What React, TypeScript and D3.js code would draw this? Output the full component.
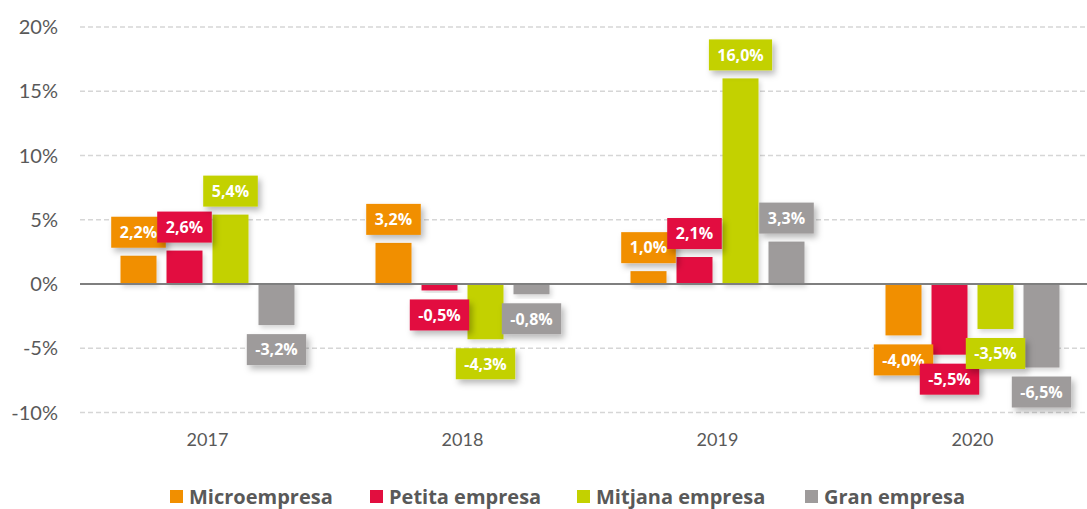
import React from "react";
import * as d3 from "d3";

const years = ["2017", "2018", "2019", "2020"];
const seriesNames = ["Microempresa", "Petita empresa", "Mitjana empresa", "Gran empresa"];
const micro = [2.2, 3.2, 1.0, -4.0];
const petita = [2.6, -0.5, 2.1, -5.5];
const mitjana = [5.4, -4.3, 16.0, -3.5];
const gran = [-3.2, -0.8, 3.3, -6.5];
const yTicks = [-10, -5, 0, 5, 10, 15, 20];
const colors = ["#f18f00", "#e20e3f", "#c3d100", "#9e9b9b"];

const W = 1087;
const H = 509;
const FONT = "Lato, 'Open Sans', sans-serif";
const BFONT = "'Open Sans', Lato, sans-serif";

const charW: Record<string, number> = { ",": 4.5, "-": 4.8, "%": 12.9 };

export default function App() {
  const series = [micro, petita, mitjana, gran];
  const x = d3.scaleBand<string>().domain(years).range([80, 1100]).paddingInner(0).paddingOuter(0);
  const inner = d3.scaleBand<number>().domain([0, 1, 2, 3]).range([-87, 87]).paddingInner(10 / 46).paddingOuter(0);
  const y = d3.scaleLinear().domain([-10, 20]).range([412.5, 27]);
  const fmt = (v: number) => v.toFixed(1).replace(".", ",") + "%";
  const bw = inner.bandwidth();

  const labelW = (s: string) => s.split("").reduce((a, c) => a + (charW[c] ?? 8.6), 0) + 20;

  const legendX = [170, 370, 577, 805];

  return (
    <svg width={W} height={H} style={{ position: "absolute", left: 0, top: 0, background: "#fff" }}>
      <defs>
        <filter id="sh" x="-30%" y="-30%" width="170%" height="170%">
          <feDropShadow dx="3" dy="4" stdDeviation="3" floodColor="#000" floodOpacity="0.28" />
        </filter>
        <filter id="shb" x="-30%" y="-30%" width="170%" height="170%">
          <feDropShadow dx="2" dy="3" stdDeviation="2.5" floodColor="#000" floodOpacity="0.16" />
        </filter>
      </defs>
      {yTicks.map((t) => (
        <g key={t}>
          {t !== 0 && (
            <line x1={80} x2={W} y1={y(t)} y2={y(t)} stroke="#d6d6d6" strokeWidth={1.3} strokeDasharray="5,3" />
          )}
          <text x={58} y={y(t)} dy="0.35em" textAnchor="end" fontFamily={FONT} fontSize={20} fill="#595959">
            {t}%
          </text>
        </g>
      ))}
      {years.map((yr, i) => (
        <g key={yr}>
          {series.map((s, j) => {
            const v = s[i];
            const cx = x(yr)! + x.bandwidth() / 2 + inner(j)!;
            return (
              <rect key={j} x={cx} width={bw} y={Math.min(y(v), y(0))} height={Math.abs(y(v) - y(0))} fill={colors[j]} filter="url(#shb)" />
            );
          })}
          <text x={x(yr)! + x.bandwidth() / 2} y={440} dy="0.35em" textAnchor="middle" fontFamily={FONT} fontSize={18} fill="#595959">
            {yr}
          </text>
        </g>
      ))}
      <line x1={80} x2={W} y1={y(0)} y2={y(0)} stroke="#7f7f7f" strokeWidth={2} />
      {years.map((yr, i) =>
        series.map((s, j) => {
          const v = s[i];
          const cx = x(yr)! + x.bandwidth() / 2 + inner(j)! + bw / 2;
          const txt = fmt(v);
          const w = labelW(txt);
          const h = 31;
          const by = v >= 0 ? y(v) - 8 - h : y(v) + 9;
          return (
            <g key={yr + j}>
              <rect x={cx - w / 2} y={by} width={w} height={h} fill={colors[j]} filter="url(#sh)" />
              <text x={cx} y={by + h / 2} dy="0.36em" textAnchor="middle" fontFamily={BFONT} fontWeight="bold" fontSize={16} fill="#fff">
                {txt}
              </text>
            </g>
          );
        })
      )}
      {seriesNames.map((n, j) => (
        <g key={n}>
          <rect x={legendX[j]} y={490} width={13} height={13} fill={colors[j]} />
          <text x={legendX[j] + 19} y={497} dy="0.35em" fontFamily={BFONT} fontWeight="bold" fontSize={20} fill="#595959">
            {n}
          </text>
        </g>
      ))}
    </svg>
  );
}
